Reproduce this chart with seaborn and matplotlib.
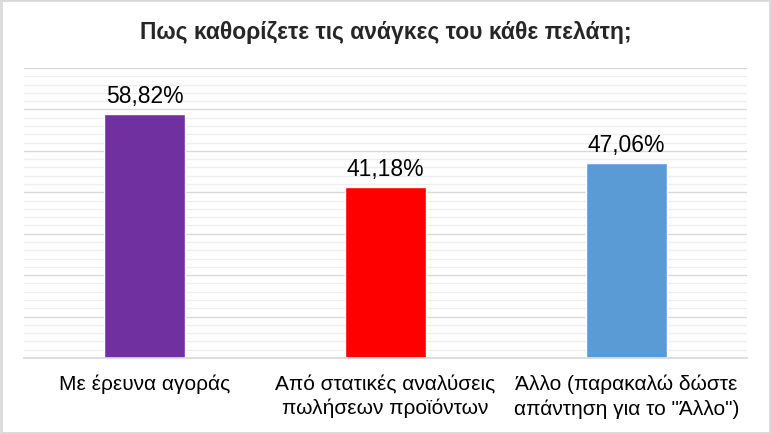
import matplotlib
matplotlib.use("Agg")
import matplotlib.pyplot as plt
import seaborn as sns
import pandas as pd
from matplotlib.patches import Rectangle
from matplotlib.ticker import MultipleLocator

categories = ["Με έρευνα αγοράς",
              "Από στατικές αναλύσεις\nπωλήσεων προϊόντων",
              "Άλλο (παρακαλώ δώστε\nαπάντηση για το \"Άλλο\")"]
values = [58.82, 41.18, 47.06]
colors = ["#7030A0", "#FF0000", "#5B9BD5"]
title = "Πως καθορίζετε τις ανάγκες του κάθε πελάτη;"

sns.set_theme(style="white")
plt.rcParams['font.family'] = ['Liberation Sans', 'DejaVu Sans']

df = pd.DataFrame({"cat": categories, "val": values})

fig = plt.figure(figsize=(7.71, 4.35), dpi=100)
ax = fig.add_axes([24/771, 1-359/435, 723/771, 290/435])
sns.barplot(data=df, x="cat", y="val", hue="cat", palette=colors, legend=False,
            width=0.336, ax=ax, saturation=1)

ax.set_ylim(0, 70)
ax.set_xlim(-0.5, 2.5)
ax.yaxis.set_major_locator(MultipleLocator(10))
ax.yaxis.set_minor_locator(MultipleLocator(2))
ax.grid(True, which="major", axis="y", color="#d9d9d9", linewidth=1)
ax.grid(True, which="minor", axis="y", color="#eeeeee", linewidth=1)
ax.set_axisbelow(True)
ax.set_yticklabels([])
ax.tick_params(axis="y", which="both", left=False, length=0)
ax.tick_params(axis="x", length=0, labelsize=15, pad=11, colors="black")
for t in ax.get_xticklabels():
    t.set_linespacing(1.35)
ax.set_xlabel("")
ax.set_ylabel("")
for s in ["left", "right", "top"]:
    ax.spines[s].set_visible(False)
ax.spines["bottom"].set_color("#d9d9d9")

for c in ax.containers:
    ax.bar_label(c, labels=[f"{v:.2f}%".replace(".", ",") for v in c.datavalues],
                 padding=5, fontsize=16.5, color="black")

fig.text(0.5, 1-33/435, title, ha="center", va="center", fontsize=16.5, fontweight="bold")
fig.patches.append(Rectangle((0.0015, 0.002), 0.997, 0.995, transform=fig.transFigure,
                             fill=False, edgecolor="#d9d9d9", linewidth=2))
fig.savefig("out.png", dpi=100)
